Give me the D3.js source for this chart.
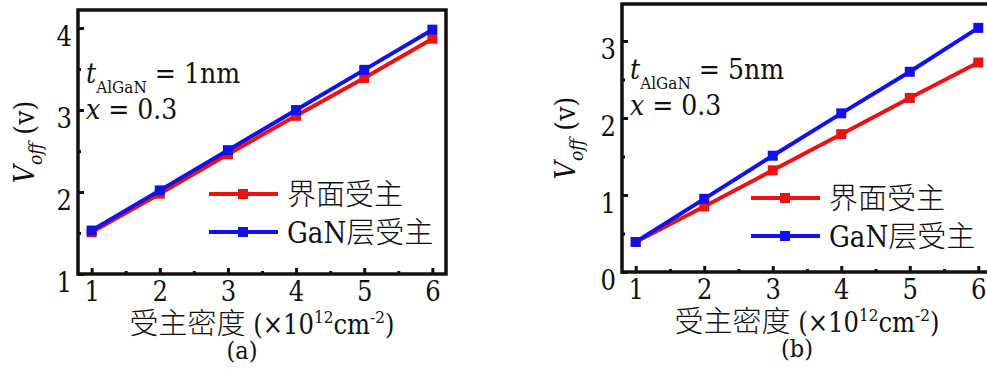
<!doctype html>
<html>
<head>
<meta charset="utf-8">
<script src="https://d3js.org/d3.v7.min.js"></script>
<style>
  body { margin: 0; background: #fff; }
  svg { display: block; }
  svg text, svg tspan { font-family: "DejaVu Serif Condensed", "DejaVu Serif", serif; fill: #111; }
  svg .cjk { font-family: "Noto Sans CJK SC", sans-serif; font-weight: 300; }
</style>
</head>
<body>
<script>
// acceptor density (x 10^12 cm^-2)
const densities = [1, 2, 3, 4, 5, 6];
const seriesNames = ["界面受主", "GaN层受主"];
const seriesColors = ["#ee1111", "#1111ee"];

// panel (a): t_AlGaN = 1nm
const aInterface = [1.51, 1.98, 2.46, 2.93, 3.39, 3.87];
const aGaN = [1.53, 2.02, 2.51, 3.00, 3.49, 3.98];
const aYTicks = [1, 2, 3, 4];

// panel (b): t_AlGaN = 5nm
const bInterface = [0.39, 0.85, 1.32, 1.79, 2.26, 2.72];
const bGaN = [0.39, 0.95, 1.51, 2.06, 2.60, 3.17];
const bYTicks = [0, 1, 2, 3];

const xTicks = [1, 2, 3, 4, 5, 6];
const xMinor = [1.5, 2.5, 3.5, 4.5, 5.5];

const SERIF = '"DejaVu Serif Condensed", "DejaVu Serif", serif';
const W = 987, H = 372;
const svg = d3.select('body').append('svg')
    .attr('width', W).attr('height', H)
    .attr('font-family', SERIF);

function drawPanel(cfg) {
  const x = d3.scaleLinear().domain([0.8, 6.2]).range([cfg.left, cfg.right]);
  const y = d3.scaleLinear().domain(cfg.yDomain).range([cfg.bottom, cfg.top]);
  const g = svg.append('g');

  // bottom axis, ticks pointing inward
  const xa = g.append('g').attr('transform', `translate(0,${cfg.bottom})`)
      .call(d3.axisBottom(x).tickValues(xTicks).tickSize(-6).tickPadding(8).tickFormat(d3.format('d')));
  xa.attr('font-family', SERIF);
  xa.select('.domain').remove();
  xa.selectAll('line').attr('stroke', '#111').attr('stroke-width', 3);
  xa.selectAll('text').style('font-size', '27px').attr('fill', '#111');

  const xm = g.append('g').attr('transform', `translate(0,${cfg.bottom})`)
      .call(d3.axisBottom(x).tickValues(xMinor).tickSize(-3).tickFormat(''));
  xm.select('.domain').remove();
  xm.selectAll('line').attr('stroke', '#111').attr('stroke-width', 3);

  // left axis (labels sit a little below their ticks, as in the original)
  const ya = g.append('g').attr('transform', `translate(${cfg.left},0)`)
      .call(d3.axisLeft(y).tickValues(cfg.yTicks).tickSize(-6).tickPadding(6).tickFormat(d3.format('d')));
  ya.attr('font-family', SERIF);
  ya.select('.domain').remove();
  ya.selectAll('line').attr('stroke', '#111').attr('stroke-width', 3);
  ya.selectAll('text').style('font-size', '27px').attr('fill', '#111').attr('dy', '0.66em');

  const yMinor = cfg.yTicks.slice(0, -1).map(v => v + 0.5);
  const ym = g.append('g').attr('transform', `translate(${cfg.left},0)`)
      .call(d3.axisLeft(y).tickValues(yMinor).tickSize(-3).tickFormat(''));
  ym.select('.domain').remove();
  ym.selectAll('line').attr('stroke', '#111').attr('stroke-width', 3);

  // frame
  g.append('rect')
      .attr('x', cfg.left).attr('y', cfg.top)
      .attr('width', cfg.right - cfg.left).attr('height', cfg.bottom - cfg.top)
      .attr('fill', 'none').attr('stroke', '#111').attr('stroke-width', 3.5);

  // series
  const line = d3.line().x((d, i) => x(densities[i])).y(d => y(d));
  cfg.series.forEach((vals, k) => {
    g.append('path').datum(vals)
        .attr('d', line)
        .attr('fill', 'none')
        .attr('stroke', seriesColors[k])
        .attr('stroke-width', 4);
    g.selectAll(null).data(vals).enter().append('rect')
        .attr('x', (d, i) => x(densities[i]) - 5)
        .attr('y', d => y(d) - 5)
        .attr('width', 10).attr('height', 10)
        .attr('fill', seriesColors[k]);
  });

  // legend
  seriesNames.forEach((name, k) => {
    const ly = cfg.legendY + k * 38;
    g.append('line')
        .attr('x1', cfg.legendX).attr('x2', cfg.legendX + 69)
        .attr('y1', ly).attr('y2', ly)
        .attr('stroke', seriesColors[k]).attr('stroke-width', 4);
    g.append('rect')
        .attr('x', cfg.legendX + 29).attr('y', ly - 5)
        .attr('width', 10).attr('height', 10)
        .attr('fill', seriesColors[k]);
    const t = g.append('text')
        .attr('x', cfg.legendX + 78).attr('y', ly + 11)
        .style('font-size', '29px');
    if (name.startsWith('GaN')) {
      t.append('tspan').text('GaN');
      t.append('tspan').attr('class', 'cjk').text(name.slice(3));
    } else {
      t.append('tspan').attr('class', 'cjk').text(name);
    }
  });

  // annotation
  const ann = g.append('text').attr('x', cfg.left + 8).attr('y', cfg.annY).style('font-size', '28px');
  ann.append('tspan').style('font-style', 'italic').text('t');
  ann.append('tspan').attr('dy', 10).style('font-size', '17px').text('AlGaN');
  ann.append('tspan').attr('dy', -10).text(' = ' + cfg.thickness);
  const ann2 = g.append('text').attr('x', cfg.left + 8).attr('y', cfg.annY + 36).style('font-size', '28px');
  ann2.append('tspan').style('font-style', 'italic').text('x');
  ann2.append('tspan').text(' = 0.3');

  // y label
  const yl = g.append('text')
      .attr('transform', `translate(${cfg.yLabelX},${cfg.yLabelY}) rotate(-90)`)
      .attr('text-anchor', 'middle')
      .style('font-size', '28px');
  yl.append('tspan').style('font-style', 'italic').text('V');
  yl.append('tspan').attr('dy', 8).style('font-style', 'italic').style('font-size', '19px').text('off');
  yl.append('tspan').attr('dy', -8).text(' (v)');

  // x label
  const xcx = (x(1) + x(6)) / 2;
  const xl = g.append('text')
      .attr('x', xcx).attr('y', cfg.bottom + 60)
      .attr('text-anchor', 'middle')
      .style('font-size', '27px');
  xl.append('tspan').attr('class', 'cjk').style('font-size', '29px').text('受主密度');
  xl.append('tspan').text(' (×10');
  xl.append('tspan').attr('dy', -11).style('font-size', '17px').text('12');
  xl.append('tspan').attr('dy', 11).text('cm');
  xl.append('tspan').attr('dy', -11).style('font-size', '17px').text('-2');
  xl.append('tspan').attr('dy', 11).text(')');

  g.append('text')
      .attr('x', cfg.captionX).attr('y', cfg.bottom + 85)
      .attr('text-anchor', 'middle')
      .style('font-size', '25px')
      .text(cfg.caption);
}

drawPanel({
  left: 78, right: 446, top: 10, bottom: 274,
  yDomain: [1, 4.22], yTicks: aYTicks,
  series: [aInterface, aGaN],
  legendX: 209, legendY: 194,
  annY: 83, thickness: '1nm',
  yLabelX: 34, yLabelY: 142,
  captionX: 242, caption: '(a)'
});

drawPanel({
  left: 622, right: 992, top: 4, bottom: 272,
  yDomain: [0, 3.48], yTicks: bYTicks,
  series: [bInterface, bGaN],
  legendX: 751, legendY: 198,
  annY: 79, thickness: '5nm',
  yLabelX: 575, yLabelY: 138,
  captionX: 797, caption: '(b)'
});
</script>
</body>
</html>
